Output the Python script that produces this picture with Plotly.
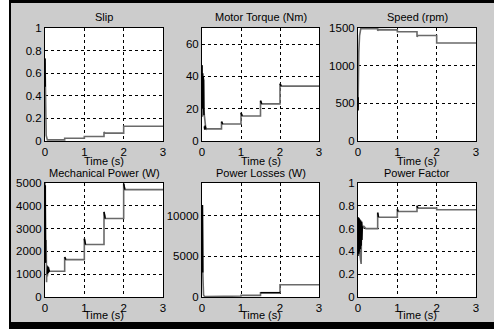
import plotly.graph_objects as go

W, H = 494, 329

# ---------------- data ----------------
x_ticks = [0, 1, 2, 3]

slip_t = [0.0, 0.01, 0.02, 0.03, 0.06, 0.5, 0.5, 1.0, 1.0, 1.5, 1.5, 1.53, 2.0, 2.0, 3.0]
slip_v = [0.73, 0.48, 0.24, 0.05, 0.01, 0.01, 0.025, 0.025, 0.04, 0.04, 0.08, 0.07, 0.07, 0.13, 0.13]
slip_bt = [0.0, 0.004, 0.002, 0.006]
slip_bv = [0.73, 0.50, 0.70, 0.48]

torque_t = [0.0, 0.01, 0.02, 0.03, 0.04, 0.05, 0.06, 0.08, 0.1, 0.12, 0.5, 0.5, 0.53, 1.0, 1.0, 1.03,
            1.5, 1.5, 1.53, 2.0, 2.0, 2.03, 3.0]
torque_v = [47, 15, 40, 18, 38, 20, 16, 9, 7, 7.5, 7.5, 12, 10.5, 10.5, 17.5, 15.5,
            15.5, 25, 23, 23, 35.5, 34, 34]
torque_bt = [0.0, 0.005, 0.01, 0.015, 0.02, 0.025, 0.03, 0.035, 0.04, 0.045, 0.05, None,
             0.06, 0.07, 0.08, 0.09, 0.1, None, 0.5, 0.53, None, 1.0, 1.03, None, 1.5, 1.53, None, 2.0, 2.03]
torque_bv = [47, 20, 45, 22, 42, 20, 40, 21, 38, 20, 16, None,
             9, 7, 9.5, 7.5, 8.5, None, 12, 10.5, None, 17.5, 15.5, None, 25, 23, None, 35.5, 34]

speed_t = [0.0, 0.005, 0.02, 0.04, 0.07, 0.5, 0.5, 0.53, 1.0, 1.0, 1.5, 1.5, 1.53, 2.0, 2.0, 3.0]
speed_v = [400, 750, 1180, 1400, 1490, 1490, 1465, 1478, 1475, 1450, 1450, 1385, 1400, 1400, 1300, 1300]
speed_bt = [0.0, 0.004, 0.002]
speed_bv = [410, 580, 450]

power_t = [0.0, 0.005, 0.01, 0.02, 0.03, 0.04, 0.05, 0.06, 0.08, 0.1, 0.12, 0.5, 0.5, 0.53, 1.0, 1.0, 1.03,
           1.5, 1.5, 1.53, 2.0, 2.0, 2.03, 3.0]
power_v = [5000, 2050, 4800, 1500, 2500, 650, 1400, 900, 1300, 1100, 1130, 1130, 1750, 1640, 1640, 2560, 2300,
           2300, 3730, 3440, 3440, 4970, 4710, 4710]
power_bt = [0.008, 0.012, 0.016, 0.02, None, 0.06, 0.07, 0.08, 0.09, 0.1, 0.11, None,
            0.5, 0.53, None, 1.0, 1.03, None, 1.5, 1.53, None, 2.0, 2.03]
power_bv = [4900, 1500, 4500, 1600, None, 1000, 1350, 1050, 1300, 1100, 1200, None,
            1750, 1640, None, 2560, 2300, None, 3730, 3440, None, 4970, 4710]

loss_t = [0.0, 0.005, 0.01, 0.015, 0.02, 0.04, 0.06, 0.1, 0.5, 0.5, 1.0, 1.0, 1.5, 1.5, 2.0, 2.0, 3.0]
loss_v = [11000, 3600, 11300, 4100, 3000, 240, 100, 40, 40, 120, 120, 200, 200, 530, 530, 1500, 1500]
loss_bt = [0.0, 0.005, 0.01, 0.015, 0.02, None, 1.5, 2.0]
loss_bv = [11000, 3600, 11300, 4100, 3000, None, 530, 530]

pf_t = [0.0, 0.08, 0.09, 0.12, 0.15, 0.2, 0.5, 0.5, 0.52, 1.0, 1.0, 1.02, 1.5, 1.5, 1.52, 2.0, 2.0, 3.0]
pf_v = [0.5, 0.29, 0.66, 0.6, 0.62, 0.6, 0.6, 0.74, 0.7, 0.7, 0.77, 0.75, 0.75, 0.8, 0.78, 0.78, 0.765, 0.765]
pf_bt = [0.0, 0.01, 0.02, 0.03, 0.04, 0.05, 0.06, 0.07, 0.08, 0.09, 0.1, 0.11, None,
         0.5, 0.52, None, 1.0, 1.02, None, 1.5, 1.52]
pf_bv = [0.36, 0.70, 0.38, 0.69, 0.40, 0.68, 0.42, 0.67, 0.45, 0.66, 0.50, 0.62, None,
         0.74, 0.70, None, 0.77, 0.75, None, 0.80, 0.78]

titles = ["Slip", "Motor Torque (Nm)", "Speed (rpm)",
          "Mechanical Power (W)", "Power Losses (W)", "Power Factor"]
y_ranges = [[0, 1], [0, 70], [0, 1500], [0, 5000], [0, 14000], [0, 1]]
y_ticks = [[0, 0.2, 0.4, 0.6, 0.8, 1], [0, 20, 40, 60], [0, 500, 1000, 1500],
           [0, 1000, 2000, 3000, 4000, 5000], [0, 5000, 10000], [0, 0.2, 0.4, 0.6, 0.8, 1]]
y_ticktext = [["0", "0.2", "0.4", "0.6", "0.8", "1"], ["0", "20", "40", "60"],
              ["0", "500", "1000", "1500"], ["0", "1000", "2000", "3000", "4000", "5000"],
              ["0", "5000", "10000"], ["0", "0.2", "0.4", "0.6", "0.8", "1"]]
x_label = "Time (s)"

series = [(slip_t, slip_v, slip_bt, slip_bv),
          (torque_t, torque_v, torque_bt, torque_bv),
          (speed_t, speed_v, speed_bt, speed_bv),
          (power_t, power_v, power_bt, power_bv),
          (loss_t, loss_v, loss_bt, loss_bv),
          (pf_t, pf_v, pf_bt, pf_bv)]

# ---------------- layout ----------------
col_px = [(45, 163), (202, 319), (358, 476)]
row_px = [(28, 141), (183, 297)]
title_y = [17, 173]
label_y = [161, 315]

FONT = "Liberation Sans, Arial, sans-serif"
BG = "#cccccc"

fig = go.Figure()
annotations = []
layout_axes = {}

for i, (t, v, bt, bv) in enumerate(series):
    r, c = divmod(i, 3)
    n = i + 1
    xa = "x" if n == 1 else f"x{n}"
    ya = "y" if n == 1 else f"y{n}"
    fig.add_trace(go.Scatter(x=t, y=v, mode="lines", xaxis=xa, yaxis=ya,
                             line=dict(color="#6a6a6a", width=1.6), showlegend=False,
                             hoverinfo="skip"))
    fig.add_trace(go.Scatter(x=bt, y=bv, mode="lines", xaxis=xa, yaxis=ya,
                             line=dict(color="#000000", width=1.5), showlegend=False,
                             connectgaps=False, hoverinfo="skip"))
    l, rr = col_px[c]
    top, bot = row_px[r]
    xd = [l / W, rr / W]
    yd = [1 - bot / H, 1 - top / H]
    axis_common = dict(showgrid=True, gridcolor="#000000", griddash="dot", gridwidth=1,
                       zeroline=False, showline=True, linecolor="#000000", linewidth=1,
                       mirror=True, ticks="", automargin=False,
                       tickfont=dict(family=FONT, size=11.5, color="#000"))
    layout_axes[("xaxis" if n == 1 else f"xaxis{n}")] = dict(
        domain=xd, anchor=ya, range=[0, 3], tickvals=x_ticks, **axis_common)
    layout_axes[("yaxis" if n == 1 else f"yaxis{n}")] = dict(
        domain=yd, anchor=xa, range=y_ranges[i], tickvals=y_ticks[i], ticktext=y_ticktext[i],
        **axis_common)
    cx = (l + rr) / 2 / W
    annotations.append(dict(text=titles[i], x=cx, y=1 - title_y[r] / H, xref="paper", yref="paper",
                            xanchor="center", yanchor="middle", showarrow=False,
                            font=dict(family=FONT, size=11, color="#000")))
    annotations.append(dict(text=x_label, x=cx, y=1 - label_y[r] / H, xref="paper", yref="paper",
                            xanchor="center", yanchor="middle", showarrow=False,
                            font=dict(family=FONT, size=11, color="#000")))

shapes = [
    dict(type="rect", xref="paper", yref="paper", x0=0, x1=10 / W, y0=0, y1=1,
         fillcolor="#ffffff", line=dict(width=0), layer="below"),
    dict(type="rect", xref="paper", yref="paper", x0=10 / W, x1=1, y0=1 - 3 / H, y1=1,
         fillcolor="#000000", line=dict(width=0), layer="above"),
    dict(type="rect", xref="paper", yref="paper", x0=10 / W, x1=1, y0=0, y1=1 - 322 / H,
         fillcolor="#000000", line=dict(width=0), layer="above"),
    dict(type="rect", xref="paper", yref="paper", x0=9 / W, x1=11 / W, y0=0, y1=1,
         fillcolor="#000000", line=dict(width=0), layer="above"),
]

fig.update_layout(width=W, height=H, margin=dict(l=0, r=0, t=0, b=0),
                  paper_bgcolor=BG, plot_bgcolor="#ffffff",
                  annotations=annotations, shapes=shapes, showlegend=False,
                  font=dict(family=FONT, size=11, color="#000"), **layout_axes)

fig.write_html("out.html", config={"displayModeBar": False},
               post_script="document.body.style.margin='0';document.body.style.overflow='hidden';")
